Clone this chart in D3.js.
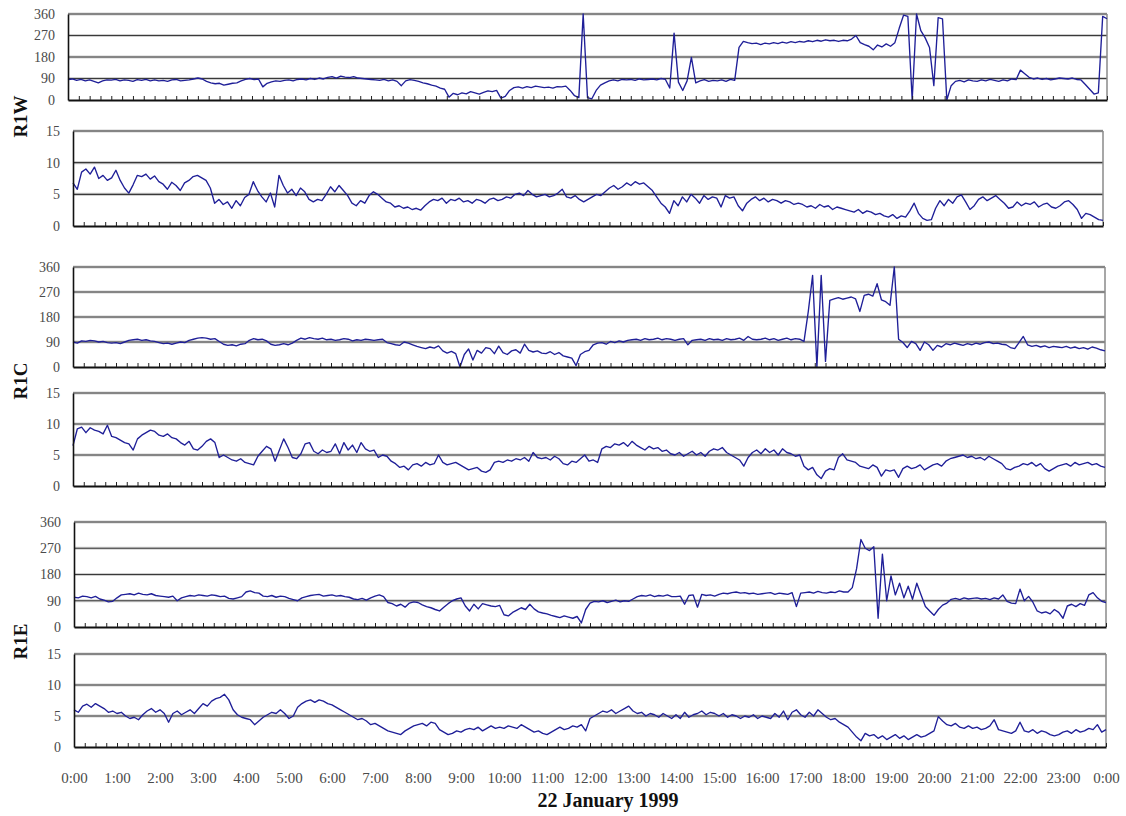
<!DOCTYPE html>
<html>
<head>
<meta charset="utf-8">
<script src="https://cdn.jsdelivr.net/npm/d3@7"></script>
<style>
  body { margin: 0; background: #fff; }
  svg { display: block; }
</style>
</head>
<body>
<script>
// ---------- DATA (one value every 6 minutes, 0:00 -> 24:00) ----------
const hourLabels = ["0:00","1:00","2:00","3:00","4:00","5:00","6:00","7:00","8:00","9:00","10:00","11:00",
  "12:00","13:00","14:00","15:00","16:00","17:00","18:00","19:00","20:00","21:00","22:00","23:00","0:00"];
const dirTicks = [0, 90, 180, 270, 360];
const spdTicks = [0, 5, 10, 15];
const stations = ["R1W", "R1C", "R1E"];
const xTitle = "22 January 1999";

const r1wDir = [
 85,88,82,86,80,84,78,72,80,84,
 83,86,80,84,82,78,85,82,86,80,
 84,80,82,78,84,86,80,82,84,88,
 92,88,78,72,68,70,62,66,70,72,
 80,86,90,85,88,55,70,76,80,78,
 82,84,80,86,88,84,90,86,92,88,
 95,98,92,100,96,94,98,92,90,88,
 86,84,82,86,80,84,78,60,80,85,
 82,78,72,68,62,58,50,45,12,28,
 22,30,26,35,30,25,32,38,35,40,
 8,15,40,52,55,50,56,52,58,55,
 52,54,50,56,55,58,40,18,10,360,
 10,5,40,62,72,80,84,80,86,84,
 86,82,88,84,86,88,84,90,86,50,
 280,75,40,80,178,72,80,85,78,82,
 80,84,78,86,82,220,245,240,236,238,
 232,238,235,240,236,242,238,244,240,245,
 242,248,244,250,246,252,248,250,245,250,
 248,255,270,240,232,225,210,230,222,235,
 225,240,300,355,350,0,360,290,260,220,
 60,345,340,0,60,78,82,76,84,80,
 78,84,80,86,82,78,84,80,88,85,
 125,110,95,88,92,86,90,84,88,92,
 90,88,92,86,84,65,45,25,30,350,
 340];

const r1wSpd = [
 6.8,5.8,8.5,9.0,8.2,9.3,7.5,8.0,7.2,7.6,
 8.8,7.2,6.0,5.2,6.5,8.0,7.8,8.2,7.4,7.9,
 7.0,6.6,5.8,6.9,6.4,5.6,6.8,7.2,7.8,8.0,
 7.6,7.2,6.0,3.6,4.2,3.4,3.8,2.8,4.0,3.2,
 4.5,5.0,7.0,5.6,4.6,3.8,5.2,3.0,8.0,6.4,
 5.2,5.8,4.8,6.0,5.4,4.2,3.8,4.2,4.0,5.0,
 6.2,5.4,6.4,5.6,4.8,3.6,3.2,4.0,3.6,4.8,
 5.4,5.0,4.4,3.8,3.6,3.0,3.2,2.8,3.0,2.6,
 2.8,2.5,3.2,3.8,4.2,4.0,4.4,3.6,4.2,4.0,
 4.4,3.8,4.0,3.6,4.2,4.0,3.6,4.2,4.4,4.0,
 4.2,4.6,4.4,5.0,5.2,4.8,5.6,5.0,4.6,4.8,
 5.0,4.6,4.8,5.2,5.8,4.6,4.4,4.8,4.2,3.8,
 4.2,4.6,5.0,4.8,5.4,6.0,6.4,5.8,6.2,6.8,
 6.4,7.0,6.6,6.8,6.2,5.6,4.6,3.6,3.0,2.0,
 4.0,3.2,4.6,3.8,5.0,4.4,3.6,4.8,4.2,4.6,
 4.4,3.0,4.8,4.4,4.6,3.2,2.4,3.6,4.2,4.6,
 4.0,4.4,3.8,4.2,4.0,3.6,4.0,3.8,3.4,3.6,
 3.4,3.0,3.2,2.8,3.4,3.0,3.2,2.6,3.0,2.8,
 2.6,2.4,2.2,2.6,2.0,2.4,2.2,1.8,2.0,1.6,
 1.4,1.8,1.2,1.6,1.4,2.4,3.6,2.0,1.2,0.9,
 1.0,2.8,4.0,3.2,4.2,3.6,4.6,4.9,3.8,2.6,
 3.2,4.2,4.6,4.0,4.4,4.8,4.2,3.6,2.8,3.0,
 3.8,3.2,3.6,3.4,3.8,3.0,3.4,3.6,3.0,2.8,
 3.2,3.8,4.0,3.4,2.6,1.2,2.0,1.8,1.4,1.0,
 0.9];

const r1cDir = [
 90,86,94,92,96,94,90,92,88,86,
 88,84,90,96,98,100,96,98,94,92,
 88,84,86,82,86,90,88,96,100,104,
 106,104,100,102,92,82,78,80,76,82,
 84,96,102,98,100,94,82,78,80,84,
 80,86,96,104,100,106,102,100,104,98,
 100,96,98,102,100,94,98,96,100,98,
 96,98,100,88,84,80,78,90,86,80,
 74,70,66,72,68,76,58,50,56,48,
 0,45,65,25,60,50,70,66,48,75,
 52,45,58,62,50,82,60,54,58,50,
 48,55,45,52,40,36,32,5,45,55,
 60,80,86,88,82,92,88,94,90,96,
 98,100,96,102,98,100,104,98,102,100,
 96,100,102,80,96,98,100,96,102,98,
 100,96,102,98,100,104,96,110,100,98,
 100,104,98,102,96,100,104,98,102,100,
 92,200,330,0,330,20,240,245,250,244,
 248,252,245,200,258,262,255,300,242,235,
 222,360,100,88,70,92,84,60,90,80,
 60,78,72,84,80,86,82,78,84,80,
 86,82,88,90,84,86,82,80,70,66,
 88,110,80,74,78,72,76,70,74,72,
 70,74,68,72,66,70,64,72,68,62,
 58];

const r1cSpd = [
 6.5,9.2,9.5,8.6,9.4,9.0,8.8,8.4,9.8,8.0,
 7.8,7.4,7.0,6.8,5.8,7.6,8.2,8.6,9.0,8.8,
 8.2,8.0,8.4,7.8,7.6,7.0,6.6,7.2,6.0,5.8,
 6.4,7.2,7.6,7.0,4.6,5.0,4.6,4.2,4.0,4.4,
 3.8,3.6,3.4,4.8,5.6,6.4,6.0,4.0,5.8,7.6,
 6.2,4.6,4.4,5.2,6.8,7.0,5.6,5.2,5.8,5.4,
 5.6,6.8,5.2,7.0,5.8,6.6,5.4,7.0,6.0,5.6,
 5.8,4.6,5.0,4.8,4.0,3.6,3.0,3.2,2.6,3.4,
 3.6,3.2,3.8,3.4,3.6,5.0,3.8,3.4,3.6,3.8,
 3.4,3.0,2.6,2.8,3.0,2.4,2.2,2.6,3.8,4.0,
 3.8,4.2,4.0,4.4,4.2,4.6,4.0,5.4,4.6,4.4,
 4.6,4.2,4.8,4.4,3.6,3.4,4.0,3.8,4.4,5.0,
 4.0,4.2,3.8,6.0,6.4,6.2,6.8,6.6,7.0,6.4,
 7.2,6.6,6.2,5.8,6.4,6.0,6.2,5.6,5.8,5.2,
 5.0,5.4,4.8,5.2,5.6,5.0,5.4,4.8,5.6,6.0,
 5.8,6.2,5.4,5.0,4.6,4.2,3.2,4.6,5.4,5.8,
 5.2,6.0,5.4,5.8,5.0,6.0,5.4,5.2,4.8,5.0,
 3.2,2.6,3.0,1.8,1.2,2.4,2.8,2.6,4.6,5.2,
 4.2,4.0,3.8,3.2,3.0,2.8,3.4,3.0,1.6,2.6,
 2.4,2.6,1.4,2.8,3.2,2.8,3.0,3.4,2.6,3.0,
 3.4,3.6,3.2,4.0,4.4,4.6,4.8,5.0,4.6,4.8,
 4.4,4.6,4.2,4.8,4.4,4.0,3.6,2.8,2.6,3.0,
 3.2,3.6,3.4,3.8,3.2,3.6,2.8,2.4,2.8,3.2,
 3.4,3.6,3.2,3.8,3.4,3.6,3.8,3.4,3.6,3.2,
 3.0];

const r1eDir = [
 102,100,106,104,100,105,96,92,86,88,
 100,110,112,114,110,116,112,110,114,108,
 106,104,102,106,90,100,104,108,106,110,
 108,106,110,108,104,106,98,96,100,104,
 120,124,118,116,106,104,108,102,106,104,
 98,94,90,100,104,108,110,112,106,108,
 110,106,108,104,102,96,94,98,92,100,
 106,110,104,84,80,72,78,68,82,86,
 84,76,70,66,60,55,68,80,90,96,
 100,72,55,78,62,80,76,72,70,74,
 42,38,50,58,66,60,78,62,52,48,
 45,40,36,32,38,34,30,36,14,60,
 82,88,86,90,84,88,92,86,90,88,
 96,104,108,106,110,104,108,106,110,104,
 104,106,78,108,110,68,112,108,110,106,
 112,116,114,118,120,116,118,114,116,112,
 114,116,118,112,116,114,112,118,70,116,
 118,120,116,122,118,116,120,118,124,120,
 120,135,200,300,270,262,275,30,250,90,
 175,110,150,100,140,95,150,110,70,55,
 40,60,75,82,95,98,94,100,96,98,
 100,96,98,94,100,96,110,88,82,80,
 130,90,105,85,55,48,52,45,60,50,
 30,72,78,70,80,74,110,118,100,88,
 84];

const r1eSpd = [
 6.0,5.6,6.6,6.9,6.4,7.0,6.6,6.2,5.6,5.8,
 5.4,5.6,5.0,4.6,4.8,4.4,5.2,5.8,6.2,5.6,
 6.0,5.4,4.0,5.4,5.8,5.2,5.6,6.0,5.4,6.2,
 7.0,6.6,7.4,7.8,8.0,8.5,7.6,6.0,5.2,4.8,
 4.6,4.4,3.6,4.2,4.8,5.2,5.6,5.4,6.0,5.4,
 4.6,5.0,6.4,7.0,7.4,7.6,7.2,7.6,7.4,7.0,
 6.8,6.4,6.0,5.6,5.2,4.8,4.4,4.6,4.2,3.6,
 3.8,3.4,3.0,2.6,2.4,2.2,2.0,2.6,3.0,3.4,
 3.6,3.8,3.4,4.0,3.8,2.8,2.4,2.0,2.2,2.6,
 2.4,2.8,3.0,2.8,3.2,2.6,3.0,3.4,3.0,3.2,
 3.0,3.4,3.2,3.0,3.6,3.2,2.8,2.4,2.6,2.2,
 2.0,2.4,2.8,3.2,2.8,3.0,3.4,3.2,3.6,2.6,
 4.6,5.0,5.4,5.8,5.6,6.0,5.4,5.8,6.2,6.6,
 5.8,5.4,5.6,5.0,5.4,5.2,4.8,5.4,5.0,4.6,
 5.2,4.6,5.6,4.8,5.2,5.4,5.8,5.2,5.6,5.4,
 5.0,5.4,4.8,5.2,5.0,4.6,5.0,4.8,5.2,4.6,
 5.0,4.8,4.6,5.4,4.8,5.8,4.4,5.6,6.0,5.2,
 4.8,5.6,5.0,6.0,5.4,4.8,4.4,4.6,4.0,3.6,
 3.2,2.4,1.6,1.0,2.2,1.8,2.0,1.4,1.8,1.2,
 1.6,2.0,1.4,1.8,1.2,1.6,2.0,1.6,1.8,2.2,
 2.6,4.9,4.2,3.6,3.4,3.8,3.2,3.0,3.4,3.0,
 3.2,2.8,3.0,3.4,4.4,2.8,2.6,2.4,2.2,2.6,
 4.0,2.6,2.4,2.8,2.2,2.6,2.4,2.0,1.8,2.0,
 2.4,2.6,2.2,2.8,2.4,2.6,3.0,2.8,3.6,2.4,
 2.8];

// ---------- LAYOUT ----------
const W = 1126, H = 816;
const stepHours = 0.1;
const panels = [
  { data: r1wDir, max: 360, ticks: dirTicks, left: 68, right: 1107, top: 14,  bottom: 100 },
  { data: r1wSpd, max: 15,  ticks: spdTicks, left: 73, right: 1103, top: 131, bottom: 226 },
  { data: r1cDir, max: 360, ticks: dirTicks, left: 73, right: 1105, top: 267, bottom: 367 },
  { data: r1cSpd, max: 15,  ticks: spdTicks, left: 73, right: 1105, top: 393, bottom: 486 },
  { data: r1eDir, max: 360, ticks: dirTicks, left: 74, right: 1106, top: 522, bottom: 627 },
  { data: r1eSpd, max: 15,  ticks: spdTicks, left: 74, right: 1106, top: 654, bottom: 747 }
];
const serif = "'Liberation Serif','Times New Roman',Times,serif";
const lineColor = "#1f1f98";

const svg = d3.select("body").append("svg").attr("width", W).attr("height", H)
  .style("font-family", serif);

const minorTicks = d3.range(0, 24.001, 0.25);

panels.forEach((p, k) => {
  const x = d3.scaleLinear().domain([0, 24]).range([p.left, p.right]);
  const y = d3.scaleLinear().domain([0, p.max]).range([p.bottom, p.top]);
  const g = svg.append("g");

  const gridVals = p.ticks.filter(t => t > 0);
  // soft halo under gridlines (scan blur)
  g.selectAll("line.halo").data(gridVals).join("line").attr("class", "halo")
    .attr("x1", p.left).attr("x2", p.right)
    .attr("y1", d => y(d)).attr("y2", d => y(d))
    .attr("stroke", "#d0d0d0").attr("stroke-width", 3.2);
  g.selectAll("line.grid").data(gridVals).join("line").attr("class", "grid")
    .attr("x1", p.left).attr("x2", p.right)
    .attr("y1", d => y(d)).attr("y2", d => y(d))
    .attr("stroke", "#3a3a3a").attr("stroke-width", 1.2);

  // right border
  g.append("line").attr("x1", p.right).attr("x2", p.right)
    .attr("y1", y(p.max)).attr("y2", y(0))
    .attr("stroke", "#8a8a8a").attr("stroke-width", 1.5);

  // data line
  const line = d3.line()
    .x((d, i) => x(i * stepHours))
    .y(d => y(Math.max(0, Math.min(p.max, d))));
  g.append("path").datum(p.data)
    .attr("d", line)
    .attr("fill", "none")
    .attr("stroke", lineColor)
    .attr("stroke-width", 1.35)
    .attr("stroke-linejoin", "round");

  // bottom axis with minor ticks pointing up
  const bx = g.append("g").attr("transform", `translate(0,${p.bottom})`)
    .call(d3.axisBottom(x).tickValues(minorTicks).tickSize(-4).tickSizeOuter(0).tickFormat(""));
  bx.select(".domain").attr("stroke", "#111").attr("stroke-width", 2);
  bx.selectAll(".tick line").attr("stroke", "#222").attr("stroke-width", 1);

  // left axis
  const ly = g.append("g").attr("transform", `translate(${p.left},0)`)
    .call(d3.axisLeft(y).tickValues(p.ticks).tickSize(0).tickPadding(13));
  ly.select(".domain").attr("stroke", "#111").attr("stroke-width", 1.6);
  ly.selectAll(".tick text")
    .attr("fill", "#4a4a4a")
    .style("font-family", serif)
    .style("font-size", "14px");

  // hour labels under the last panel
  if (k === panels.length - 1) {
    const hx = g.append("g").attr("transform", `translate(0,${p.bottom})`)
      .call(d3.axisBottom(x).tickValues(d3.range(0, 25)).tickSize(0).tickPadding(25)
        .tickFormat((d, i) => hourLabels[i]));
    hx.select(".domain").remove();
    hx.selectAll(".tick text")
      .attr("fill", "#4a4a4a")
      .style("font-family", serif)
      .style("font-size", "15px");
  }
});

// station labels, centred between each direction/speed pair
stations.forEach((s, i) => {
  const a = panels[2 * i], b = panels[2 * i + 1];
  const cy = (a.bottom + b.top) / 2 + 1;
  svg.append("text")
    .attr("transform", `translate(27,${cy}) rotate(-90)`)
    .attr("text-anchor", "middle")
    .style("font-family", serif)
    .style("font-weight", "bold")
    .style("font-size", "19px")
    .attr("fill", "#111")
    .text(s);
});

// x title
svg.append("text")
  .attr("x", 608).attr("y", 807)
  .attr("text-anchor", "middle")
  .style("font-family", serif)
  .style("font-weight", "bold")
  .style("font-size", "20px")
  .attr("fill", "#111")
  .text(xTitle);
</script>
</body>
</html>
